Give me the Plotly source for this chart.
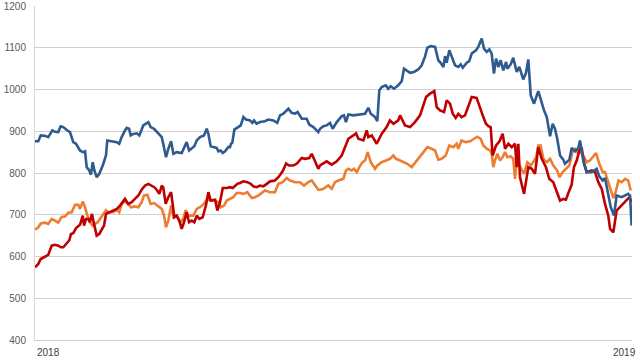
import pandas as pd
import plotly.graph_objects as go

# Day offsets (days since 2018-01-01) and values
blue_days = [0, 2.0, 3.5, 6.1, 8.1, 10.6, 12.2, 14.2, 15.7, 17.3, 19.4, 21.4, 23.4, 25.1, 27.5, 29.2, 30.6, 31.6, 33.2, 34.2,
             35.3, 36.3, 37.7, 39.3, 41.4, 43.4, 44.2, 46.9, 50.0, 51.5, 53.0, 55.0, 56.1, 57.5, 58.5, 59.7, 62.2, 63.8, 64.6, 66.2,
             69.3, 70.7, 72.8, 75.4, 77.5, 78.4, 80.1, 81.5, 83.2, 84.6, 86.6, 89.7, 91.1, 92.7, 94.2, 95.8, 97.4, 98.9, 100.9, 103.3,
             105.0, 106.0, 107.4, 109.0, 111.1, 112.1, 113.5, 114.8, 116.2, 118.2, 119.2, 119.8, 120.6, 121.9, 123.7, 125.8, 127.4, 129.0, 131.5, 132.9,
             133.9, 135.5, 137.6, 140.6, 142.6, 145.7, 148.1, 149.8, 151.8, 154.9, 156.9, 159.0, 160.6, 163.1, 166.1, 167.7, 170.2, 173.2, 174.3, 176.3,
             178.3, 180.4, 182.0, 184.5, 187.5, 188.9, 190.1, 191.6, 194.6, 197.1, 199.7, 201.8, 203.8, 205.3, 207.9, 209.3, 210.5, 212.0, 214.4, 216.0,
             217.5, 219.5, 222.1, 224.2, 225.6, 227.6, 229.3, 231.7, 234.3, 236.4, 238.4, 239.9, 241.9, 244.6, 246.6, 248.0, 249.7, 250.7, 251.7, 253.3,
             255.4, 256.8, 258.8, 260.3, 261.5, 264.0, 265.5, 267.0, 269.6, 271.0, 273.1, 274.5, 276.2, 277.8, 279.2, 280.6, 281.9, 283.3, 284.7, 286.3,
             288.0, 288.8, 290.8, 292.4, 294.5, 296.1, 298.5, 300.2, 301.6, 303.1, 305.1, 307.7, 308.8, 311.2, 312.9, 314.9, 316.5, 317.9, 319.3, 321.0,
             323.0, 324.0, 326.7, 328.1, 330.2, 332.2, 333.2, 335.2, 337.3, 339.8, 341.8, 343.4, 345.0, 347.1, 348.5, 349.9, 352.0, 354.0, 355.6, 358.7,
             361.3, 362.7, 363.8, 364.8]
blue_vals = [876, 876, 890, 889, 886, 902, 899, 898, 912, 910, 903, 898, 874, 870, 854, 850, 852, 814, 806, 796,
             826, 806, 790, 798, 818, 842, 878, 876, 874, 870, 886, 902, 908, 906, 890, 893, 895, 890, 898, 914,
             922, 910, 906, 894, 886, 870, 838, 858, 876, 846, 850, 848, 862, 874, 854, 858, 864, 878, 886, 890,
             906, 894, 864, 862, 860, 852, 854, 848, 852, 862, 862, 870, 872, 904, 908, 914, 934, 928, 926, 920,
             926, 918, 922, 924, 928, 926, 920, 938, 942, 954, 944, 942, 946, 930, 930, 916, 910, 898, 906, 912,
             914, 920, 906, 922, 936, 938, 922, 940, 938, 940, 942, 942, 956, 942, 934, 924, 998, 1006, 1010, 1002,
             1008, 1002, 1010, 1020, 1050, 1044, 1040, 1042, 1048, 1058, 1078, 1100, 1104, 1102, 1070, 1064, 1054, 1080, 1064, 1094,
             1072, 1058, 1054, 1060, 1052, 1064, 1068, 1086, 1094, 1102, 1122, 1098, 1090, 1096, 1086, 1038, 1074, 1054, 1070, 1046,
             1066, 1050, 1060, 1076, 1042, 1054, 1024, 1040, 1072, 986, 966, 996, 982, 950, 934, 888, 918, 906, 882, 842,
             832, 822, 832, 860, 852, 860, 878, 830, 802, 802, 806, 810, 792, 782, 788, 758, 718, 698, 746, 742,
             746, 750, 746, 674]

red_days = [0, 2.0, 3.5, 6.1, 8.1, 10.2, 12.2, 14.2, 15.9, 17.3, 19.0, 21.0, 22.0, 23.4, 25.1, 26.5, 27.5, 29.2, 30.0, 31.2,
            32.6, 33.6, 34.8, 36.1, 37.7, 39.3, 40.8, 42.2, 43.4, 45.9, 47.9, 50.0, 52.0, 53.6, 55.0, 57.0, 59.1, 61.1, 63.2, 65.2,
            67.3, 69.3, 71.4, 72.9, 74.4, 76.0, 77.5, 78.4, 79.9, 81.5, 83.2, 84.2, 85.2, 86.6, 88.2, 89.7, 91.1, 92.7, 94.2, 95.8,
            97.4, 98.9, 100.5, 102.5, 104.5, 106.0, 107.4, 110.1, 111.5, 113.1, 114.8, 117.2, 119.2, 120.9, 122.3, 123.7, 125.3, 127.4, 129.8, 131.9,
            133.5, 135.5, 137.6, 139.6, 141.7, 143.7, 146.7, 148.8, 151.4, 153.5, 155.3, 157.9, 160.0, 163.1, 165.1, 167.7, 169.2, 171.2, 173.2, 174.3,
            176.3, 178.3, 181.4, 184.5, 187.5, 189.5, 191.6, 194.6, 196.3, 197.7, 200.8, 202.8, 203.8, 205.9, 208.9, 212.0, 215.0, 217.0, 219.1, 222.1,
            223.2, 226.2, 229.3, 232.3, 235.4, 239.1, 241.5, 244.1, 245.6, 247.6, 250.1, 251.7, 253.7, 255.4, 257.2, 258.8, 260.8, 262.9, 264.9, 267.0,
            270.0, 272.1, 274.1, 275.7, 277.2, 278.6, 279.8, 281.9, 284.0, 285.9, 287.4, 289.4, 291.5, 293.5, 294.5, 295.5, 296.5, 299.0, 301.6, 303.7,
            305.7, 307.7, 309.8, 312.4, 314.4, 316.9, 319.3, 321.0, 323.0, 324.6, 326.1, 328.1, 329.5, 331.2, 332.8, 334.2, 335.7, 337.3, 340.4, 342.4,
            344.4, 346.5, 348.5, 350.5, 351.6, 353.6, 355.6, 357.7, 359.7, 361.8, 363.4, 364.8]
red_vals = [574, 582, 594, 600, 604, 626, 628, 626, 622, 622, 630, 639, 654, 656, 668, 674, 676, 698, 674, 690,
            690, 682, 702, 678, 650, 654, 666, 674, 702, 706, 710, 714, 722, 730, 738, 726, 730, 738, 746, 760,
            770, 774, 770, 766, 760, 750, 770, 766, 726, 742, 754, 718, 694, 698, 686, 666, 682, 706, 682, 686,
            682, 698, 690, 694, 722, 754, 734, 736, 710, 730, 764, 764, 766, 764, 768, 774, 776, 780, 778, 774,
            768, 766, 770, 768, 774, 780, 782, 790, 804, 823, 818, 818, 822, 836, 834, 836, 846, 826, 810, 818,
            824, 828, 820, 828, 842, 862, 882, 890, 895, 882, 878, 902, 886, 890, 870, 894, 910, 926, 918, 926,
            938, 914, 910, 922, 938, 982, 990, 996, 958, 950, 946, 974, 966, 942, 932, 942, 934, 938, 962, 982,
            980, 954, 934, 918, 912, 910, 842, 866, 876, 894, 858, 870, 862, 870, 814, 870, 790, 750, 814, 810,
            798, 862, 834, 814, 786, 778, 750, 734, 738, 736, 752, 772, 814, 830, 854, 862, 822, 802, 806, 802,
            778, 762, 726, 698, 666, 658, 710, 718, 726, 736, 742, 730]

orange_days = [0, 2.0, 3.5, 6.1, 8.1, 10.2, 12.2, 14.2, 16.3, 18.3, 20.4, 22.4, 24.5, 26.5, 27.5, 29.2, 30.6, 32.0, 33.6, 35.3,
               36.7, 38.3, 39.7, 41.8, 43.4, 44.8, 47.9, 50.0, 51.5, 53.0, 55.0, 57.0, 58.7, 61.1, 63.2, 65.2, 66.6, 68.7, 70.7, 72.8,
               75.4, 77.5, 78.9, 80.1, 81.5, 83.2, 84.6, 86.6, 88.7, 90.7, 92.1, 93.7, 96.8, 98.9, 100.9, 103.3, 105.3, 107.0, 110.1, 112.1,
               113.7, 115.6, 117.2, 119.2, 121.2, 123.3, 125.3, 127.4, 129.8, 132.5, 134.5, 136.5, 138.6, 140.6, 143.7, 146.7, 148.8, 151.4, 153.9, 155.9,
               159.0, 162.0, 164.5, 167.1, 169.2, 171.2, 173.2, 174.3, 176.3, 179.3, 181.4, 183.4, 185.4, 188.5, 190.1, 191.6, 193.6, 195.0, 196.7, 198.3,
               200.3, 201.8, 203.4, 205.3, 207.9, 209.3, 212.0, 214.6, 217.0, 219.1, 220.7, 223.2, 225.2, 227.6, 230.3, 233.4, 235.4, 237.8, 239.9, 242.5,
               244.6, 246.6, 248.6, 251.1, 253.3, 255.8, 257.8, 258.8, 260.8, 263.3, 266.0, 268.4, 270.4, 272.5, 274.1, 276.2, 278.2, 279.2, 280.2, 281.2,
               282.7, 284.3, 285.9, 287.4, 288.8, 290.8, 292.4, 293.5, 294.5, 296.1, 297.6, 299.0, 301.0, 303.1, 304.7, 306.4, 307.7, 309.2, 310.8, 312.9,
               314.9, 316.9, 319.3, 320.6, 322.6, 324.6, 326.7, 328.8, 330.2, 332.2, 333.7, 335.2, 337.3, 339.3, 341.4, 343.0, 345.0, 347.1, 348.5, 349.9,
               352.0, 353.6, 355.3, 356.7, 358.7, 360.8, 362.7, 364.2]
orange_vals = [664, 670, 679, 681, 678, 690, 686, 681, 695, 696, 705, 706, 724, 724, 714, 732, 718, 698, 682, 674,
               678, 682, 690, 702, 711, 706, 706, 712, 706, 726, 732, 726, 718, 720, 718, 730, 746, 748, 726, 728,
               720, 714, 698, 670, 686, 722, 694, 698, 682, 690, 711, 698, 698, 714, 718, 726, 738, 734, 734, 730,
               718, 722, 734, 738, 742, 752, 752, 750, 754, 740, 742, 746, 752, 758, 754, 754, 774, 778, 788, 782,
               778, 778, 770, 778, 782, 770, 760, 760, 762, 770, 762, 778, 782, 786, 806, 810, 806, 810, 802, 814,
               826, 830, 850, 826, 810, 818, 826, 830, 834, 842, 834, 830, 826, 822, 814, 830, 838, 850, 862, 858,
               854, 832, 834, 842, 866, 862, 870, 858, 878, 874, 876, 882, 887, 882, 866, 858, 854, 846, 814, 830,
               846, 830, 838, 850, 838, 840, 834, 786, 834, 818, 806, 798, 826, 818, 826, 838, 866, 866, 834, 826,
               834, 818, 806, 790, 802, 810, 818, 854, 858, 846, 850, 842, 826, 830, 842, 848, 822, 802, 802, 786,
               758, 740, 758, 782, 778, 786, 782, 758]

year_labels = ["2018", "2019"]
y_ticks = [400, 500, 600, 700, 800, 900, 1000, 1100, 1200]

start = pd.Timestamp("2018-01-01")


def to_dates(days):
    return [start + pd.Timedelta(hours=d * 24) for d in days]


fig = go.Figure()
for days, vals, color in [
    (orange_days, orange_vals, "#ED7D31"),
    (red_days, red_vals, "#C00000"),
    (blue_days, blue_vals, "#2F5A8F"),
]:
    fig.add_trace(go.Scatter(x=to_dates(days), y=vals, mode="lines",
                             line=dict(color=color, width=2.6), showlegend=False,
                             hoverinfo="skip"))

fig.update_layout(
    width=640, height=360,
    margin=dict(l=35, r=8, t=6, b=20, autoexpand=False),
    paper_bgcolor="white", plot_bgcolor="white",
    font=dict(family="Liberation Sans, Arial, sans-serif", size=10, color="#595959"),
    xaxis=dict(type="date", range=[start, pd.Timestamp("2019-01-01")],
               showgrid=False, showticklabels=False, ticks="", automargin=False,
               showline=True, linecolor="#d0d0d0", linewidth=1, zeroline=False),
    yaxis=dict(range=[400, 1200], tickvals=y_ticks, showgrid=True, automargin=False,
               gridcolor="#d0d0d0", gridwidth=1, showline=True, linecolor="#d9d9d9",
               linewidth=1, zeroline=False, ticks="", ticklabelstandoff=6),
    annotations=[
        dict(text=year_labels[0], xref="paper", yref="paper", x=0, y=0,
             xanchor="left", yanchor="top", yshift=-5, showarrow=False,
             font=dict(size=10, color="#404040")),
        dict(text=year_labels[1], xref="paper", yref="paper", x=1, y=0,
             xanchor="right", yanchor="top", yshift=-5, xshift=6, showarrow=False,
             font=dict(size=10, color="#404040")),
    ],
)

fig.write_html("out.html", config={"displayModeBar": False},
               post_script="document.body.style.margin='0';document.body.style.overflow='hidden';")
